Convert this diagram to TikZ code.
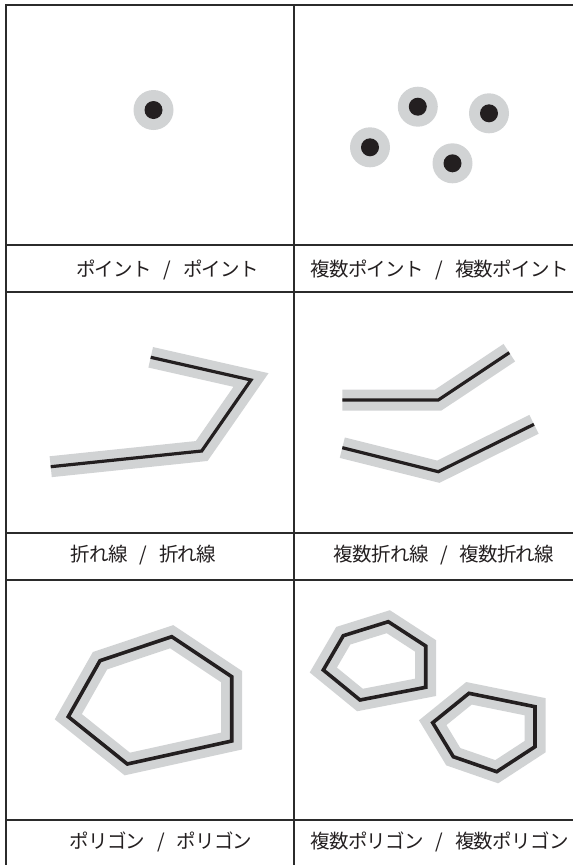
\documentclass[tikz,border=0pt]{standalone}
\usepackage{fontspec}
\setmainfont{Noto Sans CJK JP}
\newfontfamily\labelfont{Noto Sans CJK JP}[LetterSpace=-3.5]
\newcommand{\slashsep}{\hspace{0.6em}/\hspace{0.6em}}
\definecolor{ink}{HTML}{231F20}
\definecolor{halo}{HTML}{D1D3D4}
\definecolor{gridgray}{HTML}{2B2B2B}

\begin{document}
\begin{tikzpicture}[x=1pt,y=-1pt,
    gridline/.style={draw=gridgray,line width=1.2pt,line cap=rect},
    buffered/.style={draw=ink,line width=3.2pt,preaction={draw=halo,line width=21pt}},
    area/.style={buffered,line width=3.6pt},
    typename/.style={anchor=base,inner sep=0pt,text=ink,font=\labelfont\fontsize{19.5}{22}\selectfont}]
\useasboundingbox (0,0) rectangle (573,865);

% table
\foreach \y in {5,245,292,533,580,820}
    \draw[gridline] (6,\y) -- (573,\y);
\foreach \x in {6,294}
    \draw[gridline] (\x,5) -- (\x,865);

% points
\foreach \px/\py in {153.5/110, 417.8/106.7, 489/113.3, 370/147.3, 452.5/163.3}{
    \fill[halo] (\px,\py) circle[radius=20pt];
    \fill[ink] (\px,\py) circle[radius=9pt];
}

% polylines
\draw[buffered] (50.7,466.7) -- (201.7,451) -- (251,380) -- (150.7,357.3);
\draw[buffered] (342.3,400) -- (438.3,400) -- (509.3,352.7);
\draw[buffered] (342.3,447.7) -- (438.3,471.7) -- (534,424.3);

% polygons
\draw[area] (100,660.7) -- (171.7,636.7) -- (231.7,676.7) -- (231.7,741)
    -- (127.3,764) -- (68.3,716.7) -- cycle;
\draw[area] (343.3,635.7) -- (388.3,621.7) -- (425.7,646) -- (425.7,687.3)
    -- (360,700) -- (323.3,670) -- cycle;
\draw[area] (469,693.3) -- (535,706.7) -- (535,746.7) -- (496.7,771.7)
    -- (453.3,756.7) -- (432.7,722.7) -- cycle;

% labels
\node[typename] (point) at (167.5,276) {ポイント\slashsep ポイント};
\node[typename] (mpoint) at (439.5,276) {複数ポイント\slashsep 複数ポイント};
\node[typename] (line) at (143.5,561) {折れ線\slashsep 折れ線};
\node[typename] (mline) at (444,561) {複数折れ線\slashsep 複数折れ線};
\node[typename] (poly) at (161,848) {ポリゴン\slashsep ポリゴン};
\node[typename] (mpoly) at (439.5,848) {複数ポリゴン\slashsep 複数ポリゴン};
\end{tikzpicture}
\end{document}
